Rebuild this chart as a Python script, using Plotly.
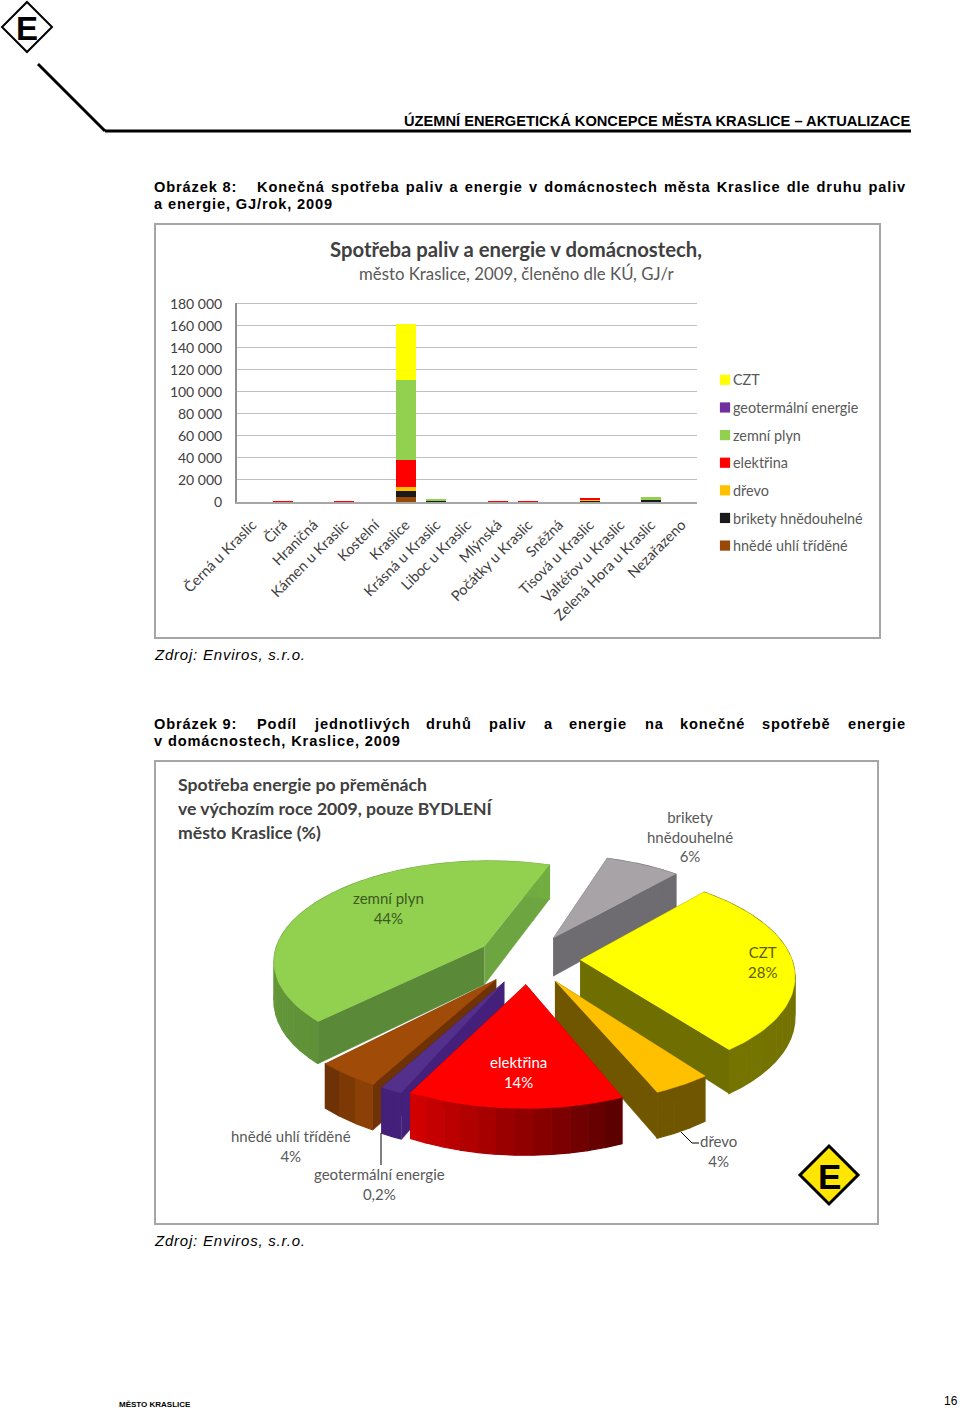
import numpy as np
import plotly.graph_objects as go

# ---------- DATA ----------
categories = ["Černá u Kraslic", "Čirá", "Hraničná", "Kámen u Kraslic", "Kostelní", "Kraslice",
              "Krásná u Kraslic", "Liboc u Kraslic", "Mlýnská", "Počátky u Kraslic", "Sněžná",
              "Tisová u Kraslic", "Valtéřov u Kraslic", "Zelená Hora u Kraslic", "Nezařazeno"]
hnede_uhli = [0, 400, 0, 400, 0, 4200, 200, 0, 400, 400, 200, 300, 0, 300, 0]
brikety    = [0, 0, 0, 0, 0, 5500, 1400, 0, 0, 0, 0, 1900, 0, 1300, 0]
drevo      = [0, 0, 0, 0, 0, 4200, 0, 0, 0, 0, 100, 100, 0, 0, 0]
elektrina  = [0, 300, 0, 300, 0, 24000, 0, 0, 300, 300, 100, 1100, 0, 0, 0]
zemni_plyn = [0, 0, 0, 0, 0, 73200, 1400, 0, 0, 0, 0, 0, 0, 3200, 0]
geotermalni = [0, 0, 0, 0, 0, 0, 0, 0, 0, 0, 0, 0, 0, 0, 0]
czt        = [0, 0, 0, 0, 0, 50500, 0, 0, 0, 0, 0, 0, 0, 0, 0]
y_ticks = [0, 20000, 40000, 60000, 80000, 100000, 120000, 140000, 160000, 180000]
y_tick_labels = ["0", "20 000", "40 000", "60 000", "80 000", "100 000", "120 000", "140 000", "160 000", "180 000"]

pie_names  = ["brikety hnědouhelné", "CZT", "dřevo", "elektřina", "geotermální energie", "hnědé uhlí tříděné", "zemní plyn"]
pie_values = [6, 28, 4, 14, 1.5, 4, 44]   # geotermální: drawn wedge width (label says 0,2 %)

# ---------- STYLE ----------
W, H = 960, 1408
BODY = "Liberation Sans"
CHART = "Lato"
GREY = "#595959"
bar_series = [("hnědé uhlí tříděné", hnede_uhli, "#984807"), ("brikety hnědouhelné", brikety, "#1a1a1a"),
              ("dřevo", drevo, "#ffc000"), ("elektřina", elektrina, "#ff0000"),
              ("zemní plyn", zemni_plyn, "#92d050"), ("geotermální energie", geotermalni, "#7030a0"),
              ("CZT", czt, "#ffff00")]
pie_style = {
    "brikety hnědouhelné": dict(top="#a7a3a7", side0="#6e6c70", side1="#6e6c70", rim=("#6e6c70", "#6e6c70"), adj=(-1, 1.5)),
    "CZT": dict(top="#ffff00", side0="#6f6e00", side1="#6f6e00", rim=("#6f6e00", "#757400"), adj=(1.5, 3.5)),
    "dřevo": dict(top="#ffc000", side0="#715600", side1="#715600", rim=("#715600", "#715600"), adj=(3.5, 3)),
    "elektřina": dict(top="#ff0000", side0="#a00000", side1="#a00000", rim=("#5c0000", "#d00000"), adj=(3.5, 4)),
    "geotermální energie": dict(top="#53308c", side0="#45207a", side1="#45207a", rim=("#45207a", "#45207a"), adj=(0, 0)),
    "hnědé uhlí tříděné": dict(top="#a04c08", side0="#6e3206", side1="#6e3206", rim=("#8a4006", "#6e3206"), adj=(0, 1)),
    "zemní plyn": dict(top="#92d050", side0="#5a8a38", side1="#6da541", rim=("#5f9238", "#72ad42"), adj=(2, 0)),
}
CX, CY = 528, 959       # pie centre in page pixels
R, EXPLODE = 235, 58
ASPECT, XSCALE, PERSP = 0.425, 0.9, 0.00057
DEPTH = 39
START = 19


def project(X, Y, z=0.0):
    f = 1.0 / (1.0 - PERSP * Y)
    return CX + XSCALE * X * f, CY + (ASPECT * Y + z) * f


def mix(c1, c2, t):
    a = [int(c1[i:i + 2], 16) for i in (1, 3, 5)]
    b = [int(c2[i:i + 2], 16) for i in (1, 3, 5)]
    return "rgb(%d,%d,%d)" % tuple(round(p + (q - p) * t) for p, q in zip(a, b))


fig = go.Figure()

# ---------- BAR CHART ----------
for i, (name, vals, col) in enumerate(bar_series):
    fig.add_trace(go.Bar(x=categories, y=vals, name=name, marker=dict(color=col, line_width=0),
                         xaxis="x", yaxis="y", legendgroup=name, legendrank=100 - i))


# ---------- EXPLODED 3D PIE (geometry computed from pie_values) ----------
def poly(xs, ys, color, lw=1.0):
    fig.add_trace(go.Scatter(x=xs, y=ys, xaxis="x2", yaxis="y2", mode="lines", fill="toself", fillcolor=color,
                             line=dict(color=color, width=lw), showlegend=False, hoverinfo="skip"))


shares = np.array(pie_values, dtype=float)
edges = START + np.concatenate([[0], np.cumsum(shares)]) / shares.sum() * 360
slices = []
for i, name in enumerate(pie_names):
    d0, d1 = pie_style[name]["adj"]
    a0, a1 = edges[i] + d0, edges[i + 1] + d1
    mid = np.radians((a0 + a1) / 2)
    ax, ay = EXPLODE * np.sin(mid), -EXPLODE * np.cos(mid)
    slices.append((ay, name, np.radians(a0), np.radians(a1), ax, ay))

for _, name, a0, a1, ax, ay in sorted(slices, key=lambda s: s[0]):
    st = pie_style[name]
    # cut faces
    for a, col in sorted([(a0, st["side0"]), (a1, st["side1"])], key=lambda t: -np.cos(t[0])):
        X, Y = ax + R * np.sin(a), ay - R * np.cos(a)
        p = [project(ax, ay), project(X, Y), project(X, Y, DEPTH), project(ax, ay, DEPTH)]
        poly([q[0] for q in p], [q[1] for q in p], col, 0.5)
    # rim, back to front
    n = max(2, int(np.degrees(a1 - a0) / 4))
    th = np.linspace(a0, a1, n + 1)
    order = sorted(range(n), key=lambda k: -np.cos((th[k] + th[k + 1]) / 2))
    for k in order:
        tt = np.linspace(th[k], th[k + 1], 3)
        X, Y = ax + R * np.sin(tt), ay - R * np.cos(tt)
        xa, ya = project(X, Y)
        xb, yb = project(X, Y, DEPTH)
        poly(np.r_[xa, xb[::-1]], np.r_[ya, yb[::-1]], mix(st["rim"][0], st["rim"][1], k / max(1, n - 1)), 1.2)
    # top
    tt = np.linspace(a0, a1, 60)
    X, Y = ax + R * np.sin(tt), ay - R * np.cos(tt)
    xa, ya = project(X, Y)
    ox, oy = project(ax, ay)
    poly(np.r_[ox, xa], np.r_[oy, ya], st["top"], 0.5)

# ---------- PAGE FURNITURE ----------
ann, shp = [], []


def txt(x, y, s, size, color="#000000", font=BODY, anchor="left"):
    ann.append(dict(x=x, y=y, xref="x2", yref="y2", text=s, showarrow=False, xanchor=anchor, yanchor="middle",
                    align=anchor, borderpad=0, borderwidth=0, font=dict(family=font, size=size, color=color)))


def line(x0, y0, x1, y1, color="#000000", width=1):
    shp.append(dict(type="line", xref="x2", yref="y2", x0=x0, y0=y0, x1=x1, y1=y1, line=dict(color=color, width=width)))


def diamond(cx, cy, r, fill, width):
    shp.append(dict(type="path", xref="x2", yref="y2",
                    path=f"M{cx},{cy - r}L{cx + r},{cy}L{cx},{cy + r}L{cx - r},{cy}Z",
                    fillcolor=fill, line=dict(color="#000000", width=width)))


CAPTION = 14.6   # captions and source lines get the reference's letter spacing in post_script
SOURCE = 15
# frames
for x0, y0, x1, y1 in [(155, 224, 880, 638), (155, 761, 878, 1224)]:
    shp.append(dict(type="rect", xref="x2", yref="y2", x0=x0, y0=y0, x1=x1, y1=y1,
                    line=dict(color="#a6a6a6", width=2), fillcolor="rgba(0,0,0,0)"))
# header
diamond(27, 27, 25, "#ffffff", 2)
txt(27, 28, "<b>E</b>", 33, anchor="center")
line(38, 64, 105, 131, width=3)
line(105, 131, 911, 131, width=3)
txt(404, 120, "<b>ÚZEMNÍ ENERGETICKÁ KONCEPCE MĚSTA KRASLICE – AKTUALIZACE</b>", 14.65)
# captions
txt(154, 187, "<b>Obrázek 8:</b>", CAPTION)
txt(257, 187, "<b>Konečná spotřeba paliv a energie v domácnostech města Kraslice dle druhu paliv</b>", CAPTION)
txt(154, 204, "<b>a energie, GJ/rok, 2009</b>", CAPTION)
txt(154, 654, "<i>Zdroj: Enviros, s.r.o.</i>", SOURCE)
for x, w in [(154, "Obrázek 9:"), (257, "Podíl"), (314, "jednotlivých"), (426, "druhů"), (489, "paliv"), (544, "a"),
             (569, "energie"), (645, "na"), (680, "konečné"), (762, "spotřebě"), (848, "energie")]:
    txt(x, 724, f"<b>{w}</b>", CAPTION)
txt(154, 741, "<b>v domácnostech, Kraslice, 2009</b>", CAPTION)
txt(154, 1240, "<i>Zdroj: Enviros, s.r.o.</i>", SOURCE)
txt(119, 1404, "<b>MĚSTO KRASLICE</b>", 8)
txt(958, 1401, "16", 12, anchor="right")
# bar chart titles
txt(516, 249, "<b>Spotřeba paliv a energie v domácnostech,</b>", 20.3, "#404040", CHART, "center")
txt(516, 273, "město Kraslice, 2009, členěno dle KÚ, GJ/r", 16.8, GREY, CHART, "center")
# pie titles and labels
txt(178, 784, "<b>Spotřeba energie po přeměnách</b>", 17.6, "#404040", CHART)
txt(178, 808, "<b>ve výchozím roce 2009, pouze BYDLENÍ</b>", 17.6, "#404040", CHART)
txt(178, 832, "<b>město Kraslice (%)</b>", 17.6, "#404040", CHART)
for cx, cy, a, b, col in [(690, 836, "brikety<br>hnědouhelné", "6%", GREY), (388, 908, "zemní plyn", "44%", "#3b5a20"),
                          (762, 962, "CZT", "28%", "#5c5c00"), (518, 1072, "elektřina", "14%", "#ffffff"),
                          (291, 1146, "hnědé uhlí tříděné", "4%", GREY), (379, 1184, "geotermální energie", "0,2%", GREY),
                          (718, 1151, "dřevo", "4%", GREY)]:
    txt(cx, cy, f"{a}<br>{b}", 15, col, CHART, "center")
line(381, 1133, 381, 1165, width=1)
line(681, 1132, 692, 1143, width=1)
line(692, 1143, 699, 1143, width=1)
# bottom logo
diamond(829, 1175, 29, "#ffe600", 3)
txt(829, 1176, "<b>E</b>", 35, anchor="center")

fig.update_layout(
    width=W, height=H, margin=dict(l=0, r=0, t=0, b=0, pad=0), paper_bgcolor="#ffffff", plot_bgcolor="rgba(0,0,0,0)",
    barmode="stack", bargap=0.35, showlegend=True, annotations=ann, shapes=shp,
    legend=dict(x=693 / W, y=1 - 364 / H, xanchor="left", yanchor="top", traceorder="grouped", tracegroupgap=5.9,
                font=dict(family=CHART, size=14.4, color=GREY), bgcolor="rgba(0,0,0,0)", itemclick=False),
    xaxis=dict(domain=[237 / W, 697 / W], type="category", tickangle=-45, showgrid=False, automargin=False,
               tickfont=dict(family=CHART, size=14.5, color="#404040"), linecolor="#a6a6a6", linewidth=1.5,
               ticks="", anchor="y", ticklabelstandoff=7),
    yaxis=dict(domain=[1 - 502 / H, 1 - 302.5 / H], range=[0, 181000], tickvals=y_ticks, ticktext=y_tick_labels,
               tickfont=dict(family=CHART, size=14, color="#404040"), gridcolor="#c0c0c0", gridwidth=1.4, automargin=False,
               linecolor="#909090", linewidth=2, ticks="", anchor="x", zeroline=False, ticklabelstandoff=10),
    xaxis2=dict(domain=[0, 1], range=[0, W], visible=False, fixedrange=True, anchor="y2", automargin=False),
    yaxis2=dict(domain=[0, 1], range=[H, 0], visible=False, fixedrange=True, anchor="x2", automargin=False),
)
post = """
document.body.style.margin='0';document.body.style.overflow='hidden';
function tune(){
  document.querySelectorAll('.annotation-text').forEach(function(t){
    var s=parseFloat(t.style.fontSize);
    if(t.style.fontFamily.indexOf('Liberation')<0) return;
    if(s===%s){ t.style.letterSpacing='0.87px'; if(t.textContent.length>60) t.style.wordSpacing='1.3px'; }
    if(s===%s) t.style.letterSpacing='0.78px';
  });
  document.querySelectorAll('.legend .legendpoints').forEach(function(g){
    g.setAttribute('transform','translate(15,0) scale(0.85)');
  });
}
tune();setTimeout(tune,50);setTimeout(tune,300);
""" % (CAPTION, SOURCE)
fig.write_html("out.html", config=dict(displayModeBar=False), post_script=post)
